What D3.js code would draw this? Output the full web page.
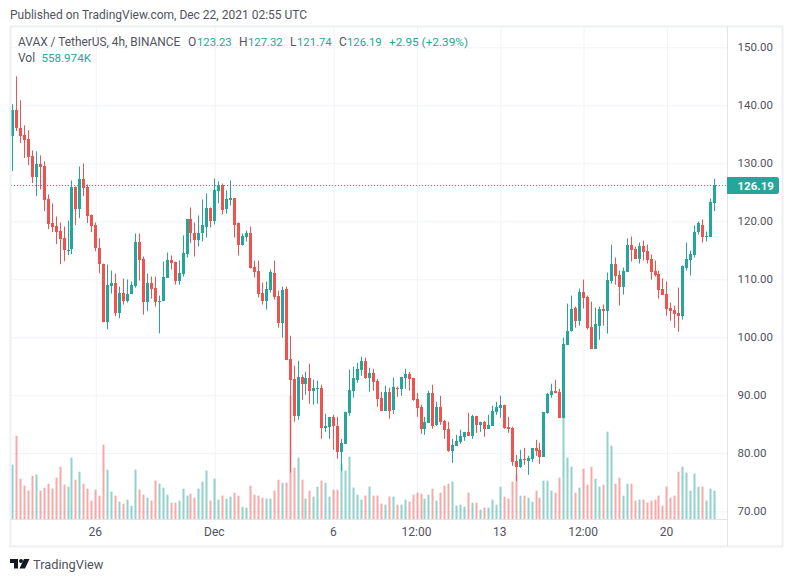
<!DOCTYPE html>
<html>
<head>
<meta charset="utf-8">
<script src="https://cdn.jsdelivr.net/npm/d3@7"></script>
<style>
    html, body { margin: 0; padding: 0; background: #ffffff; }
    svg { display: block; }
    text { font-family: Roboto, sans-serif; }
</style>
</head>
<body>
<div id="chart"></div>
<script>
// 4h candles, Nov 22 2021 12:00 onwards
var open_values = [
    134.7, 139.13, 136.14, 134.82, 134.13, 131.19, 127.62, 129.81, 129.46, 123.76, 119.62, 119.1,
    118.24, 117.03, 115.01, 115.19, 125.84, 122.09, 127.22, 125.84, 121.0, 119.27, 115.47, 112.71,
    102.58, 108.91, 109.43, 104.13, 107.7, 106.32, 107.53, 108.91, 116.51, 113.57, 106.03, 109.43,
    108.56, 106.03, 106.2, 110.29, 113.4, 113.05, 109.77, 110.98, 114.44, 120.31, 118.06, 116.85,
    117.89, 118.93, 122.21, 120.13, 125.14, 126.18, 122.03, 123.59, 123.93, 119.62, 115.99, 117.37,
    117.89, 112.19, 111.5, 107.7, 106.32, 108.22, 111.15, 107.18, 102.52, 108.39, 96.3, 92.85,
    86.46, 93.19, 91.98, 93.02, 90.77, 91.12, 91.29, 84.38, 84.56, 86.28, 84.73, 80.24,
    81.62, 86.97, 90.77, 92.67, 94.4, 95.95, 93.02, 93.88, 92.5, 89.56, 87.32, 90.6,
    87.49, 91.29, 91.12, 93.02, 93.71, 93.02, 89.39, 88.01, 84.21, 85.25, 90.43, 84.9,
    88.01, 85.59, 84.21, 80.41, 81.28, 81.97, 82.83, 83.69, 83.0, 86.46, 84.9, 85.42,
    84.21, 84.73, 87.15, 87.84, 88.36, 84.56, 84.38, 78.68, 77.65, 79.03, 78.68, 79.03,
    80.93, 80.58, 79.37, 86.97, 90.08, 90.77, 90.6, 86.11, 98.72, 101.14, 105.11, 102.86,
    107.87, 107.01, 101.83, 98.03, 102.0, 104.94, 104.59, 109.77, 112.71, 110.81, 108.74, 111.33,
    115.99, 115.3, 113.57, 115.82, 114.95, 113.57, 111.5, 110.98, 108.39, 107.53, 105.11, 104.76,
    104.25, 103.73, 112.02, 113.4, 114.26, 118.23, 119.44, 117.2, 117.37, 123.23
];
var high_values = [
    140.17, 145.0, 140.86, 136.54, 135.68, 132.23, 132.05, 131.36, 130.33, 124.63, 123.07, 120.83,
    119.79, 119.1, 120.14, 127.05, 126.01, 129.46, 129.98, 126.35, 121.17, 119.79, 117.09, 112.71,
    112.54, 111.5, 110.98, 108.74, 110.12, 109.95, 109.6, 117.89, 117.89, 113.92, 110.98, 110.46,
    110.46, 107.18, 113.05, 114.61, 114.09, 113.05, 113.23, 117.55, 120.31, 122.38, 119.79, 121.0,
    123.76, 124.8, 122.38, 127.39, 126.87, 126.52, 125.32, 127.04, 123.93, 119.79, 117.89, 118.41,
    119.1, 113.23, 113.23, 109.43, 109.6, 111.67, 113.23, 108.04, 108.73, 108.73, 100.27, 95.09,
    95.95, 93.54, 94.06, 95.44, 92.67, 92.5, 91.81, 86.8, 86.28, 86.63, 86.28, 82.48,
    87.15, 94.4, 94.92, 95.61, 96.64, 96.47, 94.75, 94.57, 92.85, 90.6, 91.64, 91.29,
    93.02, 91.47, 93.19, 94.57, 94.06, 93.02, 90.43, 88.36, 86.28, 90.77, 91.81, 88.87,
    89.91, 85.77, 85.42, 82.48, 83.17, 84.04, 83.69, 86.97, 86.63, 86.46, 85.42, 85.59,
    86.63, 88.18, 88.87, 89.91, 88.36, 86.28, 84.56, 79.72, 80.58, 80.93, 79.55, 80.93,
    82.31, 81.79, 87.15, 90.43, 91.98, 92.67, 91.12, 99.93, 105.8, 107.18, 105.28, 108.39,
    109.94, 107.18, 106.14, 105.11, 105.28, 105.63, 111.15, 115.99, 113.74, 111.5, 112.02, 117.03,
    117.37, 115.64, 116.33, 116.68, 115.99, 114.26, 113.23, 111.5, 110.12, 109.6, 105.97, 105.45,
    108.56, 112.36, 116.33, 114.95, 119.27, 119.96, 120.31, 118.23, 123.93, 127.32
];
var low_values = [
    128.66, 135.57, 133.49, 130.9, 129.69, 126.58, 124.34, 125.49, 121.75, 118.64, 118.12, 116.05,
    112.59, 113.11, 114.15, 114.32, 119.33, 120.54, 124.34, 119.68, 118.12, 114.84, 111.04, 102.58,
    101.37, 107.53, 103.61, 103.27, 105.63, 105.97, 107.53, 108.56, 109.77, 103.9, 104.48, 106.66,
    105.28, 100.68, 106.2, 110.29, 111.67, 109.08, 109.08, 110.46, 113.75, 116.22, 113.92, 115.65,
    116.51, 117.2, 118.93, 119.44, 123.07, 121.17, 121.34, 122.72, 117.2, 114.09, 115.82, 116.51,
    111.84, 110.29, 106.84, 105.63, 104.76, 107.7, 106.49, 101.65, 99.93, 96.13, 76.67, 85.42,
    85.77, 89.22, 90.08, 88.53, 88.36, 88.53, 82.48, 83.69, 82.48, 80.58, 79.03, 76.9,
    81.62, 86.46, 89.56, 92.16, 93.36, 92.85, 90.6, 90.77, 88.01, 87.32, 87.32, 85.94,
    86.8, 89.74, 89.91, 91.12, 90.77, 89.05, 86.28, 83.35, 83.17, 85.25, 84.21, 84.73,
    84.9, 82.48, 80.24, 78.34, 81.28, 81.62, 82.14, 83.0, 82.48, 83.52, 83.69, 82.83,
    84.21, 84.73, 86.63, 86.11, 84.21, 83.52, 77.82, 75.23, 77.47, 77.99, 76.27, 78.51,
    79.55, 78.17, 79.37, 86.8, 89.57, 90.43, 86.11, 86.11, 98.72, 100.96, 101.65, 102.0,
    104.94, 101.31, 98.03, 98.03, 99.58, 102.0, 100.62, 109.25, 109.08, 105.45, 107.35, 111.33,
    113.05, 113.57, 112.71, 113.23, 112.71, 109.94, 110.46, 106.66, 107.35, 103.73, 102.86, 101.65,
    100.96, 103.04, 111.5, 110.64, 113.74, 117.72, 116.33, 116.51, 117.37, 121.74
];
var close_values = [
    139.13, 136.08, 134.7, 133.95, 131.07, 127.62, 129.81, 129.35, 123.65, 119.5, 118.98, 118.12,
    116.91, 115.01, 115.13, 125.84, 122.09, 127.22, 125.72, 120.88, 119.16, 115.36, 112.59, 102.58,
    109.08, 109.43, 104.13, 107.7, 106.32, 107.53, 109.08, 116.51, 113.4, 106.03, 109.43, 108.39,
    106.03, 106.32, 110.46, 113.4, 112.88, 109.77, 111.15, 114.61, 120.31, 117.89, 116.85, 118.06,
    119.27, 122.21, 120.13, 125.32, 126.18, 121.86, 123.76, 123.93, 119.44, 115.99, 117.54, 117.89,
    112.02, 111.33, 107.53, 106.32, 108.39, 111.33, 107.01, 102.52, 108.22, 96.13, 92.67, 86.46,
    93.19, 91.98, 93.02, 90.77, 91.29, 91.29, 84.38, 84.73, 86.28, 84.73, 80.24, 81.79,
    87.15, 90.95, 93.02, 94.57, 95.95, 93.02, 93.88, 92.33, 89.39, 87.32, 90.6, 87.32,
    91.47, 91.12, 93.19, 93.71, 92.85, 89.22, 87.84, 84.21, 85.42, 90.43, 84.73, 88.01,
    85.42, 84.04, 80.41, 81.45, 82.14, 83.0, 83.69, 83.0, 86.46, 84.9, 85.42, 84.21,
    84.9, 87.32, 88.01, 88.36, 84.38, 84.21, 78.51, 77.65, 79.03, 78.86, 79.2, 80.93,
    80.41, 79.37, 87.15, 90.26, 90.77, 90.43, 86.11, 98.89, 101.14, 104.94, 102.86, 107.87,
    106.84, 101.65, 98.03, 102.34, 104.94, 104.59, 109.94, 112.71, 110.64, 108.74, 111.5, 115.99,
    115.13, 113.57, 115.82, 114.78, 113.4, 111.33, 110.81, 108.22, 107.35, 104.94, 104.59, 104.07,
    103.73, 112.36, 113.57, 114.43, 118.23, 119.62, 117.2, 117.54, 123.24, 126.19
];
var volume_values = [
    1073, 1645, 796, 658, 559, 855, 875, 559, 619, 697, 599, 816,
    1033, 678, 638, 1211, 776, 934, 697, 599, 362, 579, 461, 1467,
    974, 540, 461, 342, 303, 382, 263, 974, 579, 480, 421, 362,
    757, 697, 619, 480, 322, 322, 362, 599, 461, 500, 421, 599,
    737, 954, 362, 796, 382, 461, 401, 441, 520, 461, 243, 224,
    658, 480, 461, 421, 401, 401, 559, 776, 717, 717, 2428, 1013,
    1211, 776, 401, 559, 441, 638, 757, 717, 441, 579, 579, 1092,
    954, 1230, 619, 480, 382, 461, 638, 461, 461, 303, 283, 441,
    441, 283, 283, 382, 342, 480, 520, 500, 401, 480, 599, 362,
    520, 658, 697, 737, 263, 283, 243, 520, 322, 322, 184, 224,
    224, 382, 283, 638, 441, 401, 737, 875, 461, 461, 421, 342,
    559, 421, 757, 757, 559, 520, 816, 2013, 1211, 1033, 520, 619,
    994, 678, 1033, 796, 638, 678, 1724, 1448, 697, 816, 461, 697,
    697, 362, 382, 382, 322, 362, 382, 461, 263, 638, 421, 461,
    934, 1033, 915, 559, 895, 638, 638, 362, 599, 559
];

var price_ticks = [70, 80, 90, 100, 110, 120, 130, 140, 150];
var time_ticks = [
    new Date(Date.UTC(2021, 10, 26)),
    new Date(Date.UTC(2021, 11, 1)),
    new Date(Date.UTC(2021, 11, 6)),
    new Date(Date.UTC(2021, 11, 9, 12)),
    new Date(Date.UTC(2021, 11, 13)),
    new Date(Date.UTC(2021, 11, 16, 12)),
    new Date(Date.UTC(2021, 11, 20))
];
var time_tick_labels = ['26', 'Dec', '6', '12:00', '13', '12:00', '20'];

var legend_items = [
    {text: 'AVAX / TetherUS, 4h, BINANCE', x: 18, y: 42, up: false, size: 11.9},
    {text: 'O', x: 188, y: 42, up: false, size: 12},
    {text: '123.23', x: 197, y: 42, up: true, size: 11.3},
    {text: 'H', x: 239, y: 42, up: false, size: 12},
    {text: '127.32', x: 248, y: 42, up: true, size: 11.3},
    {text: 'L', x: 290, y: 42, up: false, size: 12},
    {text: '121.74', x: 297, y: 42, up: true, size: 11.3},
    {text: 'C', x: 339, y: 42, up: false, size: 12},
    {text: '126.19', x: 347, y: 42, up: true, size: 11.3},
    {text: '+2.95 (+2.39%)', x: 389, y: 42, up: true, size: 11.8},
    {text: 'Vol', x: 18, y: 58, up: false, size: 12},
    {text: '558.974K', x: 41.5, y: 58, up: true, size: 11.6}
];

var svg_size = {'width': 793, 'height': 582};
var frame = {'left': 10.5, 'top': 26.5, 'right': 782.5, 'bottom': 546.5, 'axis_x': 727, 'axis_y': 519};

var up_color = '#26a69a';
var down_color = '#ef5350';
var up_volume_color = 'rgba(38,166,154,0.5)';
var down_volume_color = 'rgba(239,83,80,0.5)';
var grid_color = '#f0f3fa';
var border_color = '#e0e3eb';
var text_color = '#50535e';

var start_time = new Date(Date.UTC(2021, 10, 22, 12));
var candle_data = close_values.map(function(d, i){
    return {
        time: d3.utcHour.offset(start_time, 4 * i),
        open: open_values[i],
        high: high_values[i],
        low: low_values[i],
        close: d,
        volume: volume_values[i]
    };
});

var x_scale = d3.scaleUtc()
    .domain([candle_data[0].time, candle_data[candle_data.length - 1].time])
    .range([12.5, 714.5]);

var y_scale = d3.scaleLinear()
    .domain([70, 150])
    .range([511.2, 47.3]);

var volume_scale = d3.scaleLinear()
    .domain([0, 2428])
    .range([frame.axis_y, 396]);

function isUp(d){
    return d.close >= d.open;
}

var svg = d3.select('#chart')
    .append('svg')
    .attr('width', svg_size.width)
    .attr('height', svg_size.height);

// header
svg.append('text')
    .attr('x', 10)
    .attr('y', 19)
    .attr('font-size', 12)
    .attr('fill', text_color)
    .text('Published on TradingView.com, Dec 22, 2021 02:55 UTC');

// grid
var y_grid = d3.axisLeft(y_scale)
    .tickValues(price_ticks)
    .tickFormat('')
    .tickSizeInner(-(frame.axis_x - frame.left))
    .tickSizeOuter(0);

var y_grid_group = svg.append('g')
    .attr('transform', 'translate(' + frame.left + ',0)')
    .call(y_grid);
y_grid_group.select('.domain').remove();
y_grid_group.selectAll('line').attr('stroke', grid_color);

var x_grid = d3.axisTop(x_scale)
    .tickValues(time_ticks)
    .tickFormat('')
    .tickSizeInner(-(frame.axis_y - frame.top))
    .tickSizeOuter(0);

var x_grid_group = svg.append('g')
    .attr('transform', 'translate(0,' + frame.top + ')')
    .call(x_grid);
x_grid_group.select('.domain').remove();
x_grid_group.selectAll('line').attr('stroke', grid_color);

// volume
svg.append('g')
    .selectAll('rect')
    .data(candle_data)
    .enter()
    .append('rect')
    .attr('x', function(d){ return Math.floor(x_scale(d.time)) - 0.5; })
    .attr('y', function(d){ return volume_scale(d.volume); })
    .attr('width', 2)
    .attr('height', function(d){ return frame.axis_y - volume_scale(d.volume); })
    .attr('fill', function(d){ return isUp(d) ? up_volume_color : down_volume_color; });

// candles
var candle_enter = svg.append('g')
    .selectAll('g')
    .data(candle_data)
    .enter()
    .append('g');

candle_enter.append('rect')
    .attr('x', function(d){ return Math.floor(x_scale(d.time)); })
    .attr('y', function(d){ return y_scale(d.high); })
    .attr('width', 1)
    .attr('height', function(d){ return y_scale(d.low) - y_scale(d.high); })
    .attr('fill', function(d){ return isUp(d) ? up_color : down_color; });

candle_enter.append('rect')
    .attr('x', function(d){ return Math.floor(x_scale(d.time)) - 1; })
    .attr('y', function(d){ return Math.round(y_scale(Math.max(d.open, d.close))); })
    .attr('width', 3)
    .attr('height', function(d){
        var body_height = Math.round(y_scale(Math.min(d.open, d.close))) - Math.round(y_scale(Math.max(d.open, d.close)));
        return body_height >= 1 ? body_height : 1;
    })
    .attr('fill', function(d){ return isUp(d) ? up_color : down_color; });

// last price line
var last_candle = candle_data[candle_data.length - 1];
var last_y = Math.floor(y_scale(last_candle.close)) + 0.5;

svg.append('line')
    .attr('x1', 11)
    .attr('x2', frame.axis_x)
    .attr('y1', last_y)
    .attr('y2', last_y)
    .attr('stroke', up_color)
    .attr('stroke-dasharray', '1,2');

// frame and axis borders
svg.append('rect')
    .attr('x', frame.left)
    .attr('y', frame.top)
    .attr('width', frame.right - frame.left)
    .attr('height', frame.bottom - frame.top)
    .attr('fill', 'none')
    .attr('stroke', '#eeeff4')
    .attr('stroke-width', 2);

svg.append('line')
    .attr('x1', frame.axis_x + 0.5)
    .attr('x2', frame.axis_x + 0.5)
    .attr('y1', frame.top)
    .attr('y2', frame.bottom)
    .attr('stroke', border_color);

svg.append('line')
    .attr('x1', frame.left)
    .attr('x2', frame.axis_x)
    .attr('y1', frame.axis_y + 0.5)
    .attr('y2', frame.axis_y + 0.5)
    .attr('stroke', border_color);

// price axis
var y_axis = d3.axisRight(y_scale)
    .tickValues(price_ticks)
    .tickFormat(d3.format('.2f'))
    .tickSize(0)
    .tickPadding(10.5);

var y_axis_group = svg.append('g')
    .attr('transform', 'translate(' + frame.axis_x + ',-0.5)')
    .call(y_axis);
y_axis_group.select('.domain').remove();
y_axis_group.selectAll('text')
    .attr('font-family', 'Roboto, sans-serif')
    .attr('font-size', 11.5)
    .attr('fill', text_color);

// time axis
var x_axis = d3.axisBottom(x_scale)
    .tickValues(time_ticks)
    .tickFormat(function(d, i){ return time_tick_labels[i]; })
    .tickSize(0)
    .tickPadding(8);

var x_axis_group = svg.append('g')
    .attr('transform', 'translate(-1,' + frame.axis_y + ')')
    .call(x_axis);
x_axis_group.select('.domain').remove();
x_axis_group.selectAll('text')
    .attr('font-family', 'Roboto, sans-serif')
    .attr('font-size', 12)
    .attr('fill', text_color);

// last price label
svg.append('path')
    .attr('d', 'M727,177H776.5a2.5,2.5 0 0 1 2.5,2.5V191.5a2.5,2.5 0 0 1 -2.5,2.5H727Z')
    .attr('fill', up_color);

svg.append('text')
    .attr('x', 737.5)
    .attr('y', 185.5)
    .attr('dy', '0.35em')
    .attr('font-size', 11.5)
    .attr('font-weight', 'bold')
    .attr('fill', '#ffffff')
    .text(d3.format('.2f')(last_candle.close));

// legend
svg.append('g')
    .selectAll('text')
    .data(legend_items)
    .enter()
    .append('text')
    .attr('x', function(d){ return d.x; })
    .attr('y', function(d){ return d.y; })
    .attr('dy', '0.35em')
    .attr('font-size', function(d){ return d.size; })
    .attr('fill', function(d){ return d.up ? up_color : text_color; })
    .text(function(d){ return d.text; });

// logo
var logo = svg.append('g')
    .attr('fill', '#131722');
logo.append('path').attr('d', 'M10,559H18V568.5H14V563H10Z');
logo.append('circle').attr('cx', 21).attr('cy', 561).attr('r', 2);
logo.append('path').attr('d', 'M24,559H29.5L25,568.5H19.5Z');

svg.append('text')
    .attr('x', 33)
    .attr('y', 568.5)
    .attr('font-size', 12.8)
    .attr('fill', '#50535e')
    .text('TradingView');
</script>
</body>
</html>
